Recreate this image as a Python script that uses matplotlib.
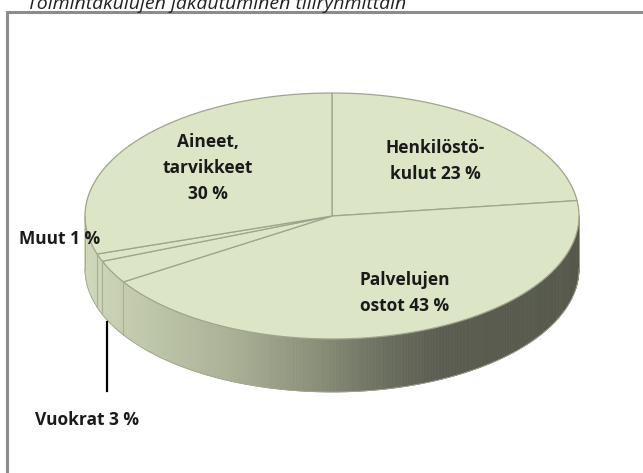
import numpy as np
import matplotlib
matplotlib.use("Agg")
import matplotlib.pyplot as plt
from matplotlib.patches import Polygon
from matplotlib.collections import PolyCollection
from matplotlib.colors import LinearSegmentedColormap

# data
categories = ["Henkilöstökulut", "Palvelujen ostot", "Vuokrat", "Muut", "Aineet, tarvikkeet"]
shares = [23, 43, 3, 1, 30]
label_texts = ["Henkilöstö-\nkulut 23 %", "Palvelujen\nostot 43 %", "Vuokrat 3 %",
               "Muut 1 %", "Aineet,\ntarvikkeet\n30 %"]
title = "Toimintakulujen jakautuminen tiliryhmittäin"

plt.rcParams['font.family'] = ['Open Sans', 'DejaVu Sans']

fig = plt.figure(figsize=(6.43, 4.73), dpi=100)
ax = fig.add_axes([0, 0, 1, 1])
ax.set_xlim(0, 643)
ax.set_ylim(473, 0)
ax.axis("off")

# pie geometry (pixels)
cx, cy, rx, ry, depth = 332, 216, 247, 123, 53
top_col = "#dce5c6"
edge_col = "#9ea58c"


def pt(t):
    r = np.radians(t)
    return cx + rx * np.cos(r), cy - ry * np.sin(r)


# wedge angles, clockwise from top
bounds = 90 - 360 * np.cumsum([0] + shares) / sum(shares)

# side wall
side_cmap = LinearSegmentedColormap.from_list(
    "side", [(0, "#d0d8bb"), (0.1, "#c2caab"), (0.3, "#a9b095"), (0.45, "#8d937b"),
             (0.6, "#6c7060"), (0.72, "#5a5d50"), (1.0, "#55584b")])
quads, cols = [], []
for a, b in zip(bounds[:-1], bounds[1:]):
    ts = np.linspace(a, b, 200)
    for t1, t2 in zip(ts[:-1], ts[1:]):
        tm = (t1 + t2) / 2
        if np.sin(np.radians(tm)) >= 0:
            continue
        x1, y1 = pt(t1)
        x2, y2 = pt(t2)
        quads.append([(x1, y1), (x2, y2), (x2, y2 + depth), (x1, y1 + depth)])
        cols.append(side_cmap(((x1 + x2) / 2 - (cx - rx)) / (2 * rx)))
ax.add_collection(PolyCollection(quads, facecolors=cols, edgecolors=cols, linewidths=0.5))

# seams on the side wall
for t in bounds:
    if np.sin(np.radians(t)) < 0:
        x, y = pt(t)
        ax.plot([x, x], [y, y + depth], color="#a8b094", lw=0.8)

# bottom outline of side wall
tb = np.linspace(180, 360, 200)
xb, yb = pt(tb)
ax.plot(xb, yb + depth, color="#a0a690", lw=0.6)
for t in (180, 360):
    x, y = pt(t)
    ax.plot([x, x], [y, y + depth], color="#a0a690", lw=0.6)

# top face wedges
for a, b in zip(bounds[:-1], bounds[1:]):
    ts = np.linspace(a, b, 100)
    xs, ys = pt(ts)
    verts = [(cx, cy)] + list(zip(xs, ys))
    ax.add_patch(Polygon(verts, closed=True, facecolor=top_col,
                         edgecolor=edge_col, lw=0.9, joinstyle="round"))

# labels
kw = dict(fontsize=12.5, fontweight="bold", color="#1a1a1a", linespacing=1.55)
ax.text(435, 161, label_texts[0], ha="center", va="center", **kw)
ax.text(405, 293, label_texts[1], ha="center", va="center", **kw)
ax.text(87, 420, label_texts[2], ha="center", va="center", **kw)
ax.text(19, 239, label_texts[3], ha="left", va="center", **kw)
ax.text(208, 168, label_texts[4], ha="center", va="center", **kw)

# leader line for Vuokrat
ax.plot([107, 107], [322, 391], color="black", lw=1.6)

# frame
ax.plot([7, 7, 643], [473, 12, 12], color="#8c8c8c", lw=2.2, solid_joinstyle="miter")

# title (partly cut off at the top)
ax.text(27, 9, title, ha="left", va="baseline", fontsize=14, style="italic", color="#222222")

fig.savefig("out.png", dpi=100)
